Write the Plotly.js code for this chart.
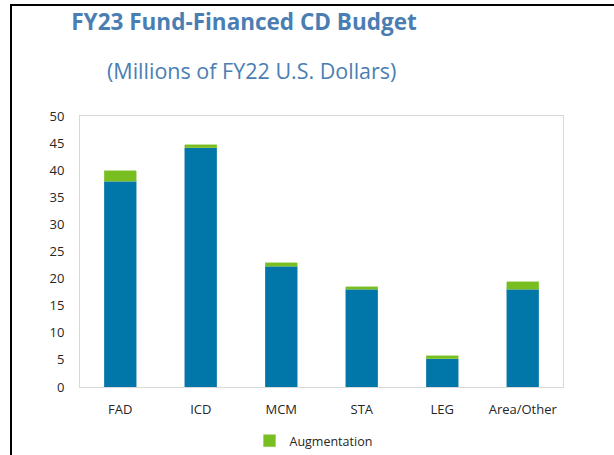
<!DOCTYPE html>
<html>
<head>
<meta charset="utf-8">
<script src="https://cdn.plot.ly/plotly-3.0.1.min.js"></script>
<style>
  html, body { margin: 0; padding: 0; background: #fff; }
  #wrap { position: relative; width: 614px; height: 455px; overflow: hidden; }
  #chart { position: absolute; left: 0; top: 0; width: 614px; height: 455px; }
  #frame { position: absolute; left: 10px; top: 4px; width: 700px; height: 500px;
           border-left: 2px solid #000; border-top: 2px solid #000; pointer-events: none; }
</style>
</head>
<body>
<div id="wrap">
  <div id="chart"></div>
  <div id="frame"></div>
</div>
<script>
const categories = ["FAD", "ICD", "MCM", "STA", "LEG", "Area/Other"];
const baseBudget = [38.0, 44.1, 22.3, 18.0, 5.2, 18.0];
const augmentation = [1.9, 0.6, 0.6, 0.5, 0.6, 1.4];
const yTicks = [0, 5, 10, 15, 20, 25, 30, 35, 40, 45, 50];

const FONT = '"Open Sans", "Noto Sans", "DejaVu Sans", sans-serif';

const traces = [
  {
    type: 'bar', x: categories, y: baseBudget, name: 'Base',
    marker: { color: '#0077A8', line: { color: '#3D93BD', width: 0.6 } },
    showlegend: false, hoverinfo: 'x+y'
  },
  {
    type: 'bar', x: categories, y: augmentation, name: 'Augmentation',
    marker: { color: '#78BE20', line: { color: '#9CCF5C', width: 0.6 } },
    showlegend: true, hoverinfo: 'x+y'
  }
];

const layout = {
  width: 614, height: 455,
  paper_bgcolor: '#fff', plot_bgcolor: '#fff',
  margin: { l: 80, r: 51, t: 116, b: 68, autoexpand: false },
  barmode: 'stack',
  bargap: 0.6,
  font: { family: FONT, size: 13, color: '#262626' },
  title: {
    text: '<b>FY23 Fund-Financed CD Budget</b>',
    font: { family: FONT, size: 22.5, color: '#4A7EB3' },
    x: 244 / 614, xref: 'container', xanchor: 'center',
    y: 1 - 22 / 455, yref: 'container', yanchor: 'middle'
  },
  annotations: [{
    text: '(Millions of FY22 U.S. Dollars)',
    xref: 'paper', yref: 'paper',
    x: (251 - 80) / 483, y: 1 + (116 - 70) / 271,
    xanchor: 'center', yanchor: 'middle', showarrow: false,
    font: { family: FONT, size: 21.5, color: '#4A7EB3' }
  }],
  xaxis: {
    type: 'category',
    showline: true, mirror: true, linecolor: '#D9D9D9', linewidth: 1,
    showgrid: false, zeroline: false, ticks: '',
    ticklabelstandoff: 10,
    tickfont: { family: FONT, size: 13, color: '#262626' }
  },
  yaxis: {
    range: [0, 50],
    tickmode: 'array', tickvals: yTicks, ticktext: yTicks.map(String),
    showline: true, mirror: true, linecolor: '#D9D9D9', linewidth: 1,
    showgrid: false, zeroline: false, ticks: '',
    ticklabelstandoff: 12,
    tickfont: { family: FONT, size: 13, color: '#262626' }
  },
  legend: {
    orientation: 'h', x: 0.5 - 8 / 483, xanchor: 'center',
    y: -(441 - 387) / 271, yanchor: 'middle',
    font: { family: FONT, size: 12.5, color: '#262626' },
    itemwidth: 30
  },
  hovermode: false
};

Plotly.newPlot('chart', traces, layout, { displayModeBar: false, staticPlot: true });
</script>
</body>
</html>
